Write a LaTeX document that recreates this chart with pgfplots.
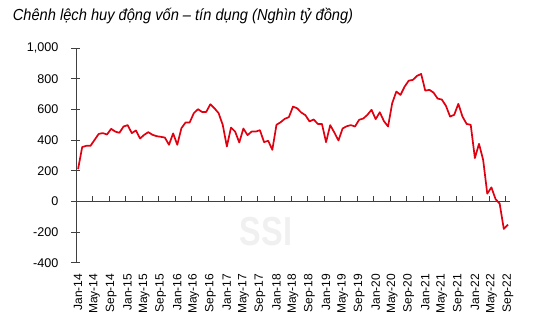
\documentclass[border=0pt]{standalone}
\usepackage{pgfplots}
\pgfplotsset{compat=1.18}
\usepackage{fontspec}
\setmainfont{Liberation Sans}
\definecolor{linered}{HTML}{E00010}
\definecolor{axgray}{HTML}{404040}
\begin{document}
\begin{tikzpicture}
\begin{axis}[
  at={(0,0)}, anchor=south west,
  scale only axis, width=434pt, height=214.7pt,
  xmin=0, xmax=105, ymin=-400, ymax=1000,
  axis x line*=bottom, axis y line*=left,
  x axis line style={draw=none},
  y axis line style={axgray, line width=0.8pt},
  ytick={-400,-200,0,200,400,600,800,1000},
  ytick style={axgray, line width=0.8pt},
  ytick align=center,
  major tick length=9pt,
  xtick={0.5,4.5,...,104.5},
  xtick style={draw=none},
  xticklabels={Jan-14,May-14,Sep-14,Jan-15,May-15,Sep-15,Jan-16,May-16,Sep-16,Jan-17,May-17,Sep-17,Jan-18,May-18,Sep-18,Jan-19,May-19,Sep-19,Jan-20,May-20,Sep-20,Jan-21,May-21,Sep-21,Jan-22,May-22,Sep-22},
  xticklabel style={rotate=90, anchor=east, inner sep=0pt, font=\fontsize{12}{14}\selectfont},
  xticklabel shift=11pt,
  yticklabel style={anchor=east, inner sep=0pt, font=\fontsize{12.6}{14}\selectfont},
  yticklabel shift=13pt,
  /pgf/number format/assume math mode=true,
  /pgf/number format/1000 sep={,},
  clip=false,
]
\draw[axgray, line width=0.8pt] (axis cs:0,0) -- (axis cs:105,0);
\pgfplotsinvokeforeach{4,8,...,104}{\draw[axgray, line width=0.8pt] (axis cs:#1,0) -- (axis cs:#1,33);}
\addplot[linered, line width=1.7pt, line join=round, mark=none] coordinates {
(0.5,210) (1.5,354) (2.5,362) (3.5,362) (4.5,401) (5.5,440) (6.5,445) (7.5,436) (8.5,473) (9.5,455)
(10.5,447) (11.5,488) (12.5,497) (13.5,445) (14.5,462) (15.5,410) (16.5,434) (17.5,451) (18.5,434) (19.5,425)
(20.5,421) (21.5,416) (22.5,369) (23.5,443) (24.5,369) (25.5,477) (26.5,514) (27.5,514) (28.5,575) (29.5,601)
(30.5,583) (31.5,583) (32.5,633) (33.5,607) (34.5,575) (35.5,499) (36.5,358) (37.5,481) (38.5,455) (39.5,384)
(40.5,475) (41.5,432) (42.5,455) (43.5,455) (44.5,464) (45.5,386) (46.5,395) (47.5,336) (48.5,499) (49.5,516)
(50.5,538) (51.5,549) (52.5,618) (53.5,607) (54.5,579) (55.5,562) (56.5,521) (57.5,534) (58.5,505) (59.5,505)
(60.5,386) (61.5,497) (62.5,449) (63.5,397) (64.5,475) (65.5,490) (66.5,497) (67.5,488) (68.5,532) (69.5,540)
(70.5,564) (71.5,597) (72.5,536) (73.5,581) (74.5,523) (75.5,488) (76.5,640) (77.5,716) (78.5,694) (79.5,748)
(80.5,787) (81.5,792) (82.5,818) (83.5,831) (84.5,722) (85.5,727) (86.5,709) (87.5,670) (88.5,664) (89.5,623)
(90.5,553) (91.5,564) (92.5,636) (93.5,553) (94.5,505) (95.5,499) (96.5,282) (97.5,375) (98.5,271) (99.5,50)
(100.5,91) (101.5,15) (102.5,-15) (103.5,-180) (104.5,-152)
};
\end{axis}
\node[inner sep=0pt, text=black!6] at (190pt,31pt) {\scalebox{0.8}[1]{\fontsize{40.5}{40}\selectfont\bfseries SSI}};
\node[inner sep=0pt, anchor=base west] at (-63.3pt,241.7pt) {\scalebox{0.915}[1]{\fontsize{16}{18}\selectfont\itshape Chênh lệch huy động vốn – tín dụng (Nghìn tỷ đồng)}};
\pgfresetboundingbox
\path[use as bounding box] (-76pt,-60.3pt) rectangle (478pt,262.7pt);
\end{tikzpicture}
\end{document}
